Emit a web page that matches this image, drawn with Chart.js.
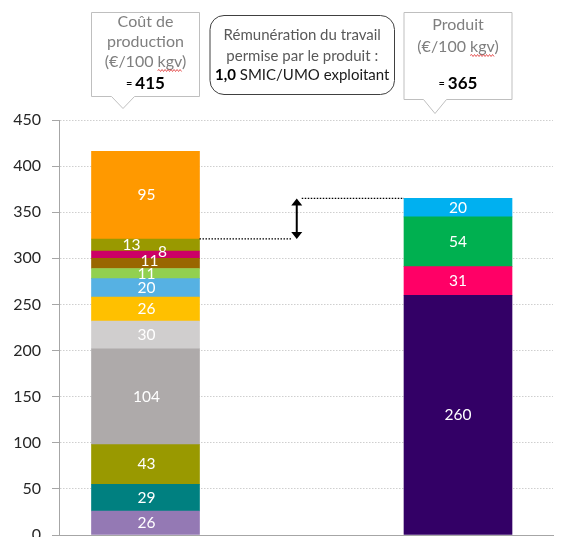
<!DOCTYPE html>
<html>
<head>
<meta charset="utf-8">
<script src="https://cdn.jsdelivr.net/npm/chart.js@4.4.0/dist/chart.umd.min.js"></script>
<style>
    html, body { margin: 0; padding: 0; background: #fff; }
    #wrap { width: 584px; height: 537px; }
</style>
</head>
<body>
<div id="wrap"><canvas id="chart"></canvas></div>
<script>
// ===== DATA =====
const categories = ['Coût de production', 'Produit'];
const costValues = [26, 29, 43, 104, 30, 26, 20, 11, 11, 8, 13, 95];
const costColors = ['#9479b4', '#008080', '#999900', '#aeaaaa', '#d0cece', '#ffc000',
                    '#56b1e3', '#92d050', '#996600', '#cc0066', '#999900', '#ff9900'];
const productValues = [260, 31, 54, 20];
const productColors = ['#330066', '#ff0066', '#00b050', '#00b0f0'];
const yTicks = [0, 50, 100, 150, 200, 250, 300, 350, 400, 450];
const costTotal = '415';
const productTotal = '365';
const labourPay = '1,0';

const FONT = 'Lato, "Open Sans", sans-serif';

// label nudges for the thin segments (index in costValues)
const costLabelNudge = { 8: [4, -2], 9: [17, -3], 10: [-14, 0] };

// ===== DATASETS =====
const datasets = [];
costValues.forEach((v, i) => {
    datasets.push({
        data: [{ x: 0, y: v }],
        backgroundColor: costColors[i],
        nudge: costLabelNudge[i] || [1, 0]
    });
});
productValues.forEach((v, i) => {
    datasets.push({
        data: [{ x: 1, y: v }],
        backgroundColor: productColors[i],
        nudge: [0, 0]
    });
});

// ===== PLUGINS =====
const segmentLabels = {
    id: 'segmentLabels',
    afterDatasetsDraw(chart) {
        const ctx = chart.ctx;
        ctx.save();
        ctx.font = '15.5px ' + FONT;
        ctx.fillStyle = '#fff';
        ctx.textAlign = 'center';
        ctx.textBaseline = 'middle';
        chart.data.datasets.forEach((ds, i) => {
            const el = chart.getDatasetMeta(i).data[0];
            const v = ds.data[0].y;
            ctx.fillText(String(v), el.x + ds.nudge[0], (el.y + el.base) / 2 + ds.nudge[1]);
        });
        ctx.restore();
    }
};

function drawRichLine(ctx, cx, y, parts) {
    let w = 0;
    parts.forEach(p => { ctx.font = p.font; w += ctx.measureText(p.text).width; });
    let x = cx - w / 2;
    parts.forEach(p => {
        ctx.font = p.font;
        ctx.fillStyle = p.color;
        ctx.fillText(p.text, x, y);
        x += ctx.measureText(p.text).width;
    });
}

function squiggle(ctx, x1, x2, y) {
    ctx.save();
    ctx.strokeStyle = '#e03030';
    ctx.lineWidth = 0.8;
    ctx.beginPath();
    ctx.moveTo(x1, y);
    let up = true;
    for (let x = x1 + 1.5; x <= x2; x += 1.5) {
        ctx.lineTo(x, y + (up ? -1 : 1));
        up = !up;
    }
    ctx.stroke();
    ctx.restore();
}

function calloutBox(ctx, x1, x2, y1, y2, tipX, tipY, half) {
    ctx.save();
    ctx.beginPath();
    ctx.moveTo(x1, y1);
    ctx.lineTo(x2, y1);
    ctx.lineTo(x2, y2);
    ctx.lineTo(tipX + half, y2);
    ctx.lineTo(tipX, tipY);
    ctx.lineTo(tipX - half, y2);
    ctx.lineTo(x1, y2);
    ctx.closePath();
    ctx.fillStyle = '#fff';
    ctx.fill();
    ctx.strokeStyle = '#bfbfbf';
    ctx.lineWidth = 1;
    ctx.stroke();
    ctx.restore();
}

function unitLine(ctx, cx, y, font) {
    // "(€/100 kgv)" with the spell-check squiggle under kgv
    ctx.font = font;
    const full = ctx.measureText('(€/100 kgv)').width;
    const pre = ctx.measureText('(€/100 ').width;
    const kgv = ctx.measureText('kgv').width;
    ctx.fillStyle = '#7f7f7f';
    ctx.fillText('(€/100 kgv)', cx - full / 2, y);
    squiggle(ctx, cx - full / 2 + pre, cx - full / 2 + pre + kgv, y + 9);
}

const annotations = {
    id: 'annotations',
    afterDraw(chart) {
        const ctx = chart.ctx;
        const ys = chart.scales.y;
        const xs = chart.scales.x;
        const nCost = costValues.length;
        const left = chart.getDatasetMeta(0).data[0];
        const right = chart.getDatasetMeta(nCost).data[0];
        const lw = left.width / 2, rw = right.width / 2;
        const big = '16px ' + FONT;
        const gray = '#7f7f7f';

        ctx.save();
        ctx.textBaseline = 'middle';
        ctx.textAlign = 'left';

        // left callout
        calloutBox(ctx, left.x - lw, left.x + lw, 12.5, 96.5, left.x - lw + 31.5, 108.5, 11.5);
        drawRichLine(ctx, left.x, 21.5, [{ text: 'Coût de', font: big, color: gray }]);
        drawRichLine(ctx, left.x, 41.5, [{ text: 'production', font: big, color: gray }]);
        unitLine(ctx, left.x, 61.5, big);
        drawRichLine(ctx, left.x, 83.5, [
            { text: '= ', font: '11px ' + FONT, color: '#000' },
            { text: costTotal, font: 'bold 17px ' + FONT, color: '#000' }
        ]);

        // right callout
        calloutBox(ctx, right.x - rw, right.x + rw, 12.5, 99.5, right.x - rw + 31, 113.5, 11.5);
        drawRichLine(ctx, right.x, 25, [{ text: 'Produit', font: big, color: gray }]);
        unitLine(ctx, right.x, 46.5, big);
        drawRichLine(ctx, right.x, 83.5, [
            { text: '= ', font: '11px ' + FONT, color: '#000' },
            { text: productTotal, font: 'bold 17px ' + FONT, color: '#000' }
        ]);

        // middle rounded box
        const mx1 = left.x + lw + 10.5, mx2 = right.x - rw - 9.5;
        ctx.beginPath();
        ctx.roundRect(mx1, 15.5, mx2 - mx1, 79, 14);
        ctx.fillStyle = '#fff';
        ctx.fill();
        ctx.strokeStyle = '#404040';
        ctx.lineWidth = 1;
        ctx.stroke();
        const mc = (mx1 + mx2) / 2;
        const mid = '15px ' + FONT;
        drawRichLine(ctx, mc, 35, [{ text: 'Rémunération du travail', font: mid, color: '#595959' }]);
        drawRichLine(ctx, mc, 56, [{ text: 'permise par le produit :', font: mid, color: '#595959' }]);
        drawRichLine(ctx, mc, 75.5, [
            { text: labourPay, font: 'bold 15px ' + FONT, color: '#000' },
            { text: ' SMIC/UMO exploitant', font: mid, color: '#1a1a1a' }
        ]);

        // gap between cost (without last item) and product
        const costBase = costValues.slice(0, nCost - 1).reduce((a, b) => a + b, 0);
        const prodTop = productValues.reduce((a, b) => a + b, 0);
        const yLow = ys.getPixelForValue(costBase);
        const yHigh = ys.getPixelForValue(prodTop);
        const ax = xs.getPixelForValue(0.484);

        ctx.strokeStyle = '#000';
        ctx.lineWidth = 1.3;
        ctx.setLineDash([1.5, 1.5]);
        ctx.beginPath();
        ctx.moveTo(left.x + lw, yLow);
        ctx.lineTo(ax - 5, yLow);
        ctx.moveTo(ax + 5, yHigh);
        ctx.lineTo(right.x - rw, yHigh);
        ctx.stroke();
        ctx.setLineDash([]);

        ctx.lineWidth = 2;
        ctx.beginPath();
        ctx.moveTo(ax, yHigh + 5);
        ctx.lineTo(ax, yLow - 5);
        ctx.stroke();
        ctx.fillStyle = '#000';
        ctx.beginPath();
        ctx.moveTo(ax, yHigh);
        ctx.lineTo(ax + 5.5, yHigh + 7);
        ctx.lineTo(ax - 5.5, yHigh + 7);
        ctx.closePath();
        ctx.moveTo(ax, yLow);
        ctx.lineTo(ax + 5.5, yLow - 7);
        ctx.lineTo(ax - 5.5, yLow - 7);
        ctx.closePath();
        ctx.fill();

        ctx.restore();
    }
};

// ===== CHART =====
new Chart(document.getElementById('chart'), {
    type: 'bar',
    data: { labels: categories, datasets: datasets },
    plugins: [segmentLabels, annotations],
    options: {
        responsive: true,
        maintainAspectRatio: false,
        animation: false,
        layout: { padding: { top: 120, right: 31, bottom: 2, left: 0 } },
        datasets: { bar: { barThickness: 108, borderWidth: 0 } },
        plugins: { legend: { display: false }, tooltip: { enabled: false } },
        scales: {
            x: {
                type: 'linear',
                stacked: true,
                offset: false,
                bounds: 'data',
                min: -0.2768,
                max: 1.304,
                afterFit: (scale) => { scale.height = 0; scale.paddingLeft = 0; scale.paddingRight = 0; },
                grid: { display: false, drawTicks: false, offset: false },
                ticks: { display: false },
                border: { display: true, color: '#a6a6a6', width: 1 }
            },
            y: {
                stacked: true,
                min: 0,
                max: 450,
                afterBuildTicks: (scale) => { scale.ticks = yTicks.map(v => ({ value: v })); },
                afterFit: (scale) => { scale.width = 59; scale.paddingTop = 0; scale.paddingBottom = 0; },
                ticks: {
                    color: '#262626',
                    padding: 11,
                    font: { family: FONT, size: 16 }
                },
                grid: {
                    color: '#cfcfcf',
                    lineWidth: 1,
                    tickLength: 7,
                    tickColor: '#a6a6a6',
                    tickBorderDash: []
                },
                border: { display: true, color: '#a6a6a6', width: 1, dash: [1.5, 1.5] }
            }
        }
    }
});
</script>
</body>
</html>
